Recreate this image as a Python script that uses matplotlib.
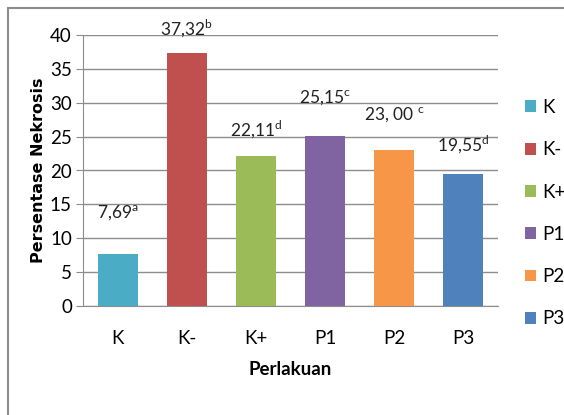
import matplotlib
matplotlib.use("Agg")
import matplotlib.pyplot as plt
from matplotlib.patches import Rectangle, Patch

# data
categories = ["K", "K-", "K+", "P1", "P2", "P3"]
values = [7.69, 37.32, 22.11, 25.15, 23.00, 19.55]
value_text = ["7,69", "37,32", "22,11", "25,15", "23, 00 ", "19,55"]
letters = ["a", "b", "d", "c", "c", "d"]
colors = ["#4BACC6", "#C0504D", "#9BBB59", "#8064A2", "#F79646", "#4F81BD"]
# how far (in points) each label sits above its bar
label_offsets = [22, 10, 12, 20, 18, 13]

narrow = ["Lato", "DejaVu Sans"]
plt.rcParams["font.family"] = narrow
plt.rcParams["mathtext.fontset"] = "custom"
plt.rcParams["mathtext.rm"] = "Lato"

fig = plt.figure(figsize=(5.64, 4.15), dpi=100)
fig.patches.append(Rectangle((8 / 564, -0.1), 1.2, 1 - 8 / 415 + 0.1,
                             transform=fig.transFigure, fill=False,
                             edgecolor="#8c8c8c", linewidth=1.5))

ax = fig.add_axes([83 / 564, 1 - 306 / 415, (498 - 83) / 564, (306 - 35) / 415])
x = range(len(categories))
bars = ax.bar(x, values, width=0.58, color=colors, zorder=3)

for b, t, l, off in zip(bars, value_text, letters, label_offsets):
    ax.annotate(t + r"$^{\mathrm{" + l + "}}$",
                (b.get_x() + b.get_width() / 2, b.get_height()),
                xytext=(0, off), textcoords="offset points",
                ha="center", va="bottom", fontsize=12.5, color="#222222")

ax.set_ylim(0, 40)
ax.set_xlim(-0.5, len(categories) - 0.5)
ax.set_yticks(range(0, 41, 5))
ax.set_xticks(list(x))
ax.set_xticklabels(categories)
ax.yaxis.grid(True, color="#8c8c8c", linewidth=1)
ax.set_axisbelow(True)
for s in ["top", "right"]:
    ax.spines[s].set_visible(False)
ax.spines["left"].set_color("#8c8c8c")
ax.spines["bottom"].set_color("#8c8c8c")
ax.tick_params(axis="y", labelsize=13.5, length=5, color="#8c8c8c", pad=3)
ax.tick_params(axis="x", labelsize=13.5, length=0, pad=17)

fig.text(39 / 564, 1 - 170 / 415, "Persentase Nekrosis", family="DejaVu Sans",
         fontweight="bold", fontsize=11.5, rotation=90, ha="center", va="center")
ax.set_xlabel("Perlakuan", fontweight="bold", fontsize=13.5, labelpad=10)

handles = [Patch(facecolor=c, edgecolor="none") for c in colors]
fig.legend(handles, categories, loc="upper left",
           bbox_to_anchor=(508 / 564, 1 - 82 / 415), frameon=False,
           fontsize=13.5, handlelength=0.6, handleheight=0.6,
           handletextpad=0.3, labelspacing=1.35)

fig.savefig("out.png", dpi=100)
